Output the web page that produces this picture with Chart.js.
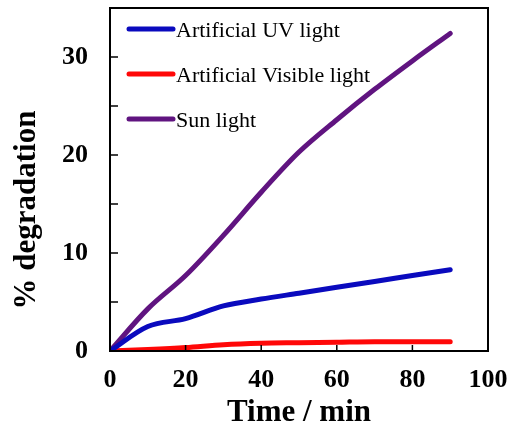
<!DOCTYPE html>
<html>
<head>
<meta charset="utf-8">
<script src="https://cdn.jsdelivr.net/npm/chart.js@4.4.1/dist/chart.umd.min.js"></script>
<style>
  html, body { margin: 0; padding: 0; background: #fff; }
  canvas { display: block; }
</style>
</head>
<body>
<canvas id="degChart" width="509" height="428"></canvas>
<script>
// values
const timeMin = [0, 10, 20, 30, 40, 50, 60, 70, 80, 90];
const uvLight = [0, 2.5, 3.3, 4.6, 5.3, 5.9, 6.5, 7.1, 7.7, 8.3];
const visibleLight = [0, 0.15, 0.35, 0.65, 0.8, 0.85, 0.9, 0.95, 0.95, 0.95];
const sunLight = [0, 4.3, 7.7, 11.8, 16.2, 20.3, 23.6, 26.7, 29.6, 32.4];

const xTicks = [0, 20, 40, 60, 80, 100];
const yTicks = [0, 10, 20, 30];
const yMinorTicks = [5, 15, 25];

const seriesConfigs = [
    { label: "Artificial UV light", values: uvLight, color: "rgb(10, 10, 190)" },
    { label: "Artificial Visible light", values: visibleLight, color: "rgb(255, 8, 8)" },
    { label: "Sun light", values: sunLight, color: "rgb(96, 20, 128)" }
];

const serif = "'Liberation Serif', 'Times New Roman', serif";

// box, inward ticks, legend and rotated y title
const framePlugin = {
    id: "frame",
    afterDraw(chart) {
        const ctx = chart.ctx;
        const a = chart.chartArea;
        const xs = chart.scales.x, ys = chart.scales.y;
        ctx.save();
        ctx.strokeStyle = "#000";
        ctx.lineWidth = 2;
        ctx.strokeRect(a.left, a.top, a.right - a.left, a.bottom - a.top);

        ctx.lineWidth = 1.5;
        ctx.beginPath();
        xTicks.forEach(v => {
            const px = xs.getPixelForValue(v);
            ctx.moveTo(px, a.bottom);
            ctx.lineTo(px, a.bottom - 6);
        });
        yTicks.concat(yMinorTicks).forEach(v => {
            const py = ys.getPixelForValue(v);
            ctx.moveTo(a.left, py);
            ctx.lineTo(a.left + 8, py);
        });
        ctx.stroke();

        // legend inside the plot
        ctx.font = "22px " + serif;
        ctx.fillStyle = "#000";
        ctx.textAlign = "left";
        ctx.textBaseline = "alphabetic";
        chart.data.datasets.forEach((ds, i) => {
            const y = a.top + 21 + i * 45;
            ctx.strokeStyle = ds.borderColor;
            ctx.lineWidth = 5;
            ctx.lineCap = "round";
            ctx.beginPath();
            ctx.moveTo(a.left + 19, y);
            ctx.lineTo(a.left + 63, y);
            ctx.stroke();
            ctx.fillText(ds.label, a.left + 66, y + 8);
        });

        // y axis title
        ctx.font = "bold 31px " + serif;
        ctx.textAlign = "center";
        ctx.translate(35, 210);
        ctx.rotate(-Math.PI / 2);
        ctx.fillText("% degradation", 0, 0);
        ctx.restore();
    }
};

new Chart(document.getElementById("degChart").getContext("2d"), {
    type: "line",
    data: {
        datasets: seriesConfigs.map(cfg => ({
            label: cfg.label,
            data: timeMin.map((t, i) => ({ x: t, y: cfg.values[i] })),
            borderColor: cfg.color,
            backgroundColor: cfg.color,
            borderWidth: 5,
            borderCapStyle: "round",
            pointRadius: 0,
            fill: false,
            cubicInterpolationMode: "monotone"
        }))
    },
    options: {
        responsive: false,
        animation: false,
        layout: { padding: { top: 8, right: 21, left: 0, bottom: 0 } },
        plugins: { legend: { display: false }, tooltip: { enabled: false } },
        scales: {
            x: {
                type: "linear",
                min: 0,
                max: 100,
                afterBuildTicks: s => { s.ticks = xTicks.map(v => ({ value: v })); },
                afterFit: s => { s.height = 77; s.paddingLeft = 0; s.paddingRight = 0; },
                grid: { display: false, drawTicks: false },
                border: { display: false },
                ticks: { padding: 14, color: "#000", font: { family: serif, size: 26, weight: "bold" } },
                title: {
                    display: true,
                    text: "Time / min",
                    color: "#000",
                    padding: 0,
                    font: { family: serif, size: 31, weight: "bold", lineHeight: 1 }
                }
            },
            y: {
                type: "linear",
                min: 0,
                max: 35,
                afterBuildTicks: s => { s.ticks = yTicks.map(v => ({ value: v })); },
                afterFit: s => { s.width = 110; s.paddingTop = 0; s.paddingBottom = 0; },
                grid: { display: false, drawTicks: false },
                border: { display: false },
                ticks: { padding: 22, color: "#000", font: { family: serif, size: 26, weight: "bold" } }
            }
        }
    },
    plugins: [framePlugin]
});
</script>
</body>
</html>
